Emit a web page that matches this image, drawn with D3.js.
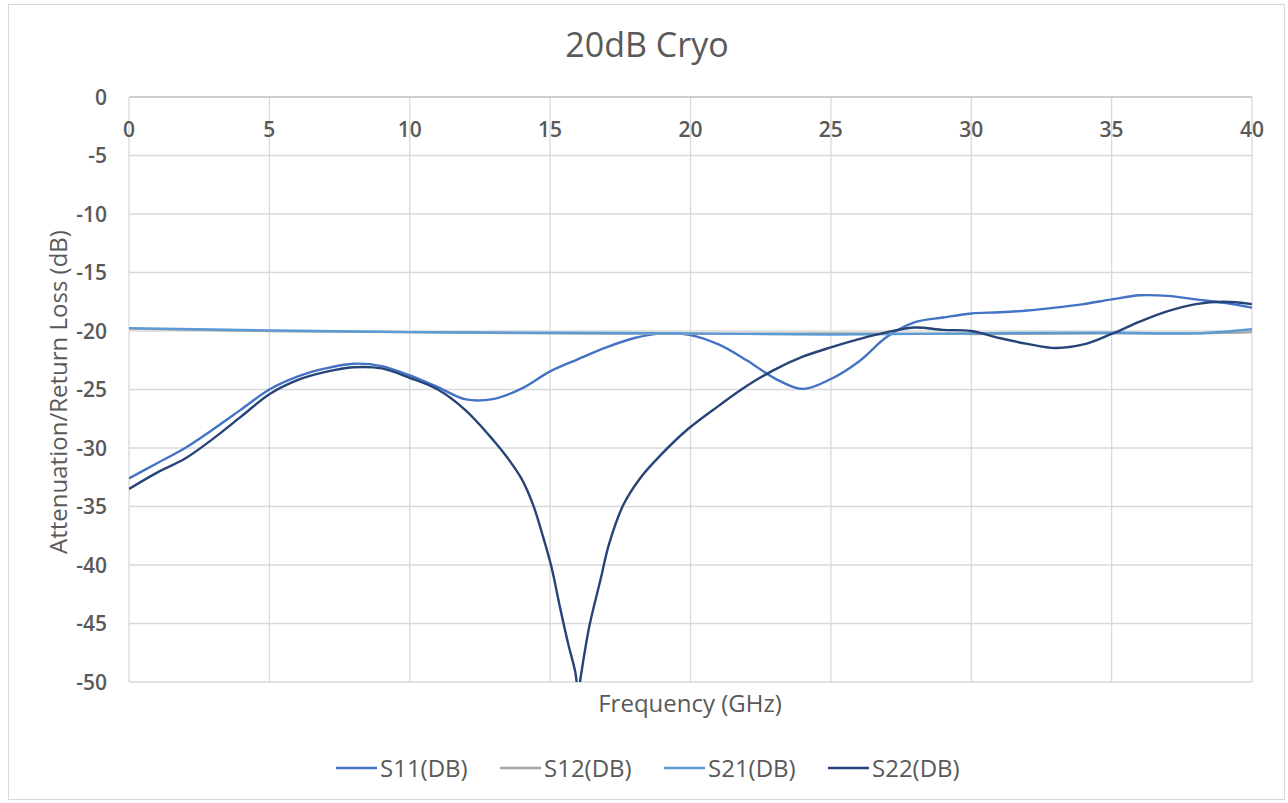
<!DOCTYPE html>
<html>
<head>
<meta charset="utf-8">
<script src="https://cdn.jsdelivr.net/npm/d3@7"></script>
<style>
  body { margin: 0; background: #fff; }
  text { font-family: "Open Sans", "Noto Sans", sans-serif; fill: #595959; }
</style>
</head>
<body>
<div id="chart"></div>
<script>
// frequency grid (GHz) for S11
var freq = [0,1,2,3,4,5,6,7,8,9,10,11,12,13,14,15,16,17,18,19,20,
            21,22,23,24,25,26,27,28,29,30,31,32,33,34,35,36,37,38,39,40];
var s11 = [-32.6,-31.3,-30.0,-28.4,-26.7,-25.0,-23.9,-23.2,-22.8,-23.0,-23.8,
           -24.8,-25.85,-25.8,-24.9,-23.45,-22.4,-21.4,-20.6,-20.2,-20.35,
           -21.15,-22.5,-24.05,-24.95,-24.1,-22.6,-20.5,-19.25,-18.85,-18.5,
           -18.4,-18.25,-18.0,-17.7,-17.3,-16.95,-17.0,-17.3,-17.6,-18.0];

// S22 needs finer steps around the notch
var freqS22 = [0,1,2,3,4,5,6,7,8,9,10,11,12,13,13.5,14,14.4,14.75,15.05,15.35,15.65,15.9,16.0,
               16.1,16.4,16.8,17.1,17.6,18.2,18.9,19.9,21,22,23,24,25,26,27,28,29,30,
               31,32,33,34,35,36,37,38,39,40];
var s22 = [-33.5,-32.1,-30.9,-29.2,-27.3,-25.4,-24.2,-23.5,-23.1,-23.2,-24.0,-25.0,-26.8,-29.4,-30.9,
           -32.7,-34.9,-37.6,-40.2,-43.6,-46.8,-49.2,-51.0,
           -49.4,-45.2,-41.2,-38.2,-34.9,-32.6,-30.7,-28.4,-26.4,-24.7,-23.3,-22.2,-21.4,-20.7,
           -20.1,-19.7,-19.9,-20.0,-20.6,-21.1,-21.45,-21.15,-20.25,-19.2,-18.3,-17.7,-17.5,-17.7];

// transmission curves are nearly flat
var freqFlat = [0,5,10,15,20,25,30,35,38,40];
var s12 = [-19.8,-20.0,-20.1,-20.2,-20.25,-20.2,-20.25,-20.2,-20.2,-20.1];
var s21 = [-19.75,-19.95,-20.1,-20.15,-20.2,-20.3,-20.2,-20.15,-20.2,-19.85];

var xTicks = [0,5,10,15,20,25,30,35,40];
var yTicks = [0,-5,-10,-15,-20,-25,-30,-35,-40,-45,-50];

var series = [
  {name: "S11(DB)", x: freq, y: s11, color: "#4472C4"},
  {name: "S12(DB)", x: freqFlat, y: s12, color: "#A5A5A5"},
  {name: "S21(DB)", x: freqFlat, y: s21, color: "#5B9BD5"},
  {name: "S22(DB)", x: freqS22, y: s22, color: "#264478"}
];

var W = 1288, H = 803;
var pLeft = 129, pRight = 1252, pTop = 97, pBottom = 682;

var svg = d3.select("#chart").append("svg")
    .attr("width", W).attr("height", H);

svg.append("rect")
    .attr("x", 8.5).attr("y", 4.5)
    .attr("width", 1276).attr("height", 795)
    .attr("fill", "#fff").attr("stroke", "#d9d9d9");

var x = d3.scaleLinear().domain([0, 40]).range([pLeft, pRight]);
var y = d3.scaleLinear().domain([-50, 0]).range([pBottom, pTop]);

// grid
svg.append("g").selectAll("line").data(xTicks).enter().append("line")
    .attr("x1", function(d) { return x(d); }).attr("x2", function(d) { return x(d); })
    .attr("y1", pTop).attr("y2", pBottom)
    .attr("stroke", "#d9d9d9").attr("stroke-width", 1.3);
svg.append("g").selectAll("line").data(yTicks).enter().append("line")
    .attr("x1", pLeft).attr("x2", pRight)
    .attr("y1", function(d) { return y(d); }).attr("y2", function(d) { return y(d); })
    .attr("stroke", function(d) { return d === 0 ? "#bfbfbf" : "#d9d9d9"; })
    .attr("stroke-width", function(d) { return d === 0 ? 1.6 : 1.3; });

// tick labels
svg.append("g").selectAll("text").data(yTicks).enter().append("text")
    .attr("x", 107).attr("y", function(d) { return y(d); })
    .attr("dy", "0.36em").attr("text-anchor", "end")
    .style("font-size", "21px").style("font-weight", 600)
    .text(function(d) { return d; });
svg.append("g").selectAll("text").data(xTicks).enter().append("text")
    .attr("x", function(d) { return x(d); }).attr("y", 137)
    .attr("text-anchor", "middle")
    .style("font-size", "21px").style("font-weight", 600)
    .text(function(d) { return d; });

// curves
svg.append("clipPath").attr("id", "plotclip").append("rect")
    .attr("x", pLeft).attr("y", pTop)
    .attr("width", pRight - pLeft).attr("height", pBottom - pTop);

var line = d3.line().curve(d3.curveCatmullRom.alpha(0.5));
svg.append("g").attr("clip-path", "url(#plotclip)")
  .selectAll("path").data(series).enter().append("path")
    .attr("fill", "none")
    .attr("stroke", function(d) { return d.color; })
    .attr("stroke-width", 2.4)
    .attr("stroke-linejoin", "round")
    .attr("d", function(d) {
      return line(d.x.map(function(f, i) { return [x(f), y(d.y[i])]; }));
    });

// titles
svg.append("text").attr("x", 647).attr("y", 57)
    .attr("text-anchor", "middle").style("font-size", "34px")
    .text("20dB Cryo");
svg.append("text").attr("x", 690).attr("y", 712)
    .attr("text-anchor", "middle").style("font-size", "24px")
    .text("Frequency (GHz)");
svg.append("text")
    .attr("transform", "translate(67,392) rotate(-90)")
    .attr("text-anchor", "middle").style("font-size", "24px")
    .text("Attenuation/Return Loss (dB)");

// legend
var leg = svg.append("g").selectAll("g").data(series).enter().append("g")
    .attr("transform", function(d, i) { return "translate(" + (336 + i * 164) + ",768)"; });
leg.append("line").attr("x1", 0).attr("x2", 41)
    .attr("stroke", function(d) { return d.color; }).attr("stroke-width", 2.6);
leg.append("text").attr("x", 44).attr("dy", "0.36em")
    .style("font-size", "24px")
    .text(function(d) { return d.name; });
</script>
</body>
</html>
